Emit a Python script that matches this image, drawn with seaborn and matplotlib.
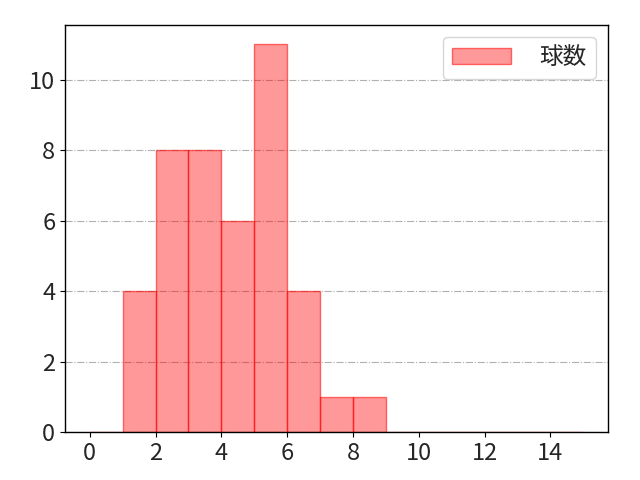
import numpy as np
import matplotlib
matplotlib.use("Agg")
import matplotlib.pyplot as plt
import seaborn as sns
import pandas as pd

bin_edges = list(range(0, 16))
bin_centers = [e + 0.5 for e in bin_edges[:-1]]
counts = [0, 4, 8, 8, 6, 11, 4, 1, 1, 0, 0, 0, 0, 0, 0]
label = "球数"

sns.set_style("white")
plt.rcParams['font.family'] = ['Noto Sans CJK JP', 'DejaVu Sans']

fig, ax = plt.subplots(figsize=(6.4, 4.8), dpi=100)
df = pd.DataFrame({"x": bin_centers, "w": counts})
sns.histplot(data=df, x="x", weights="w", bins=bin_edges, ax=ax,
             color='red', linewidth=1, label=label, stat="count")
for p in ax.patches:
    p.set_alpha(None)
    p.set_facecolor((1, 0, 0, 0.4))
    p.set_edgecolor((1, 0, 0, 0.55))
    p.set_linewidth(1)
ax.set_xlabel("")
ax.set_ylabel("")
ax.set_xticks(range(0, 15, 2))
ax.tick_params(axis='both', labelsize=17, length=3.5, width=0.8, color='black',
               direction='out', bottom=True, left=True)
for s in ax.spines.values():
    s.set_color('black')
    s.set_linewidth(1)
ax.yaxis.grid(True, linestyle='-.', color='#b0b0b0', linewidth=0.8)
ax.set_axisbelow(True)
ax.legend(loc='upper right', fontsize=17, handlelength=2.5, handletextpad=1.2,
          borderaxespad=0.5)
fig.subplots_adjust(left=65/640, right=608/640, top=1-25/480, bottom=1-432/480)
fig.savefig("out.png")
